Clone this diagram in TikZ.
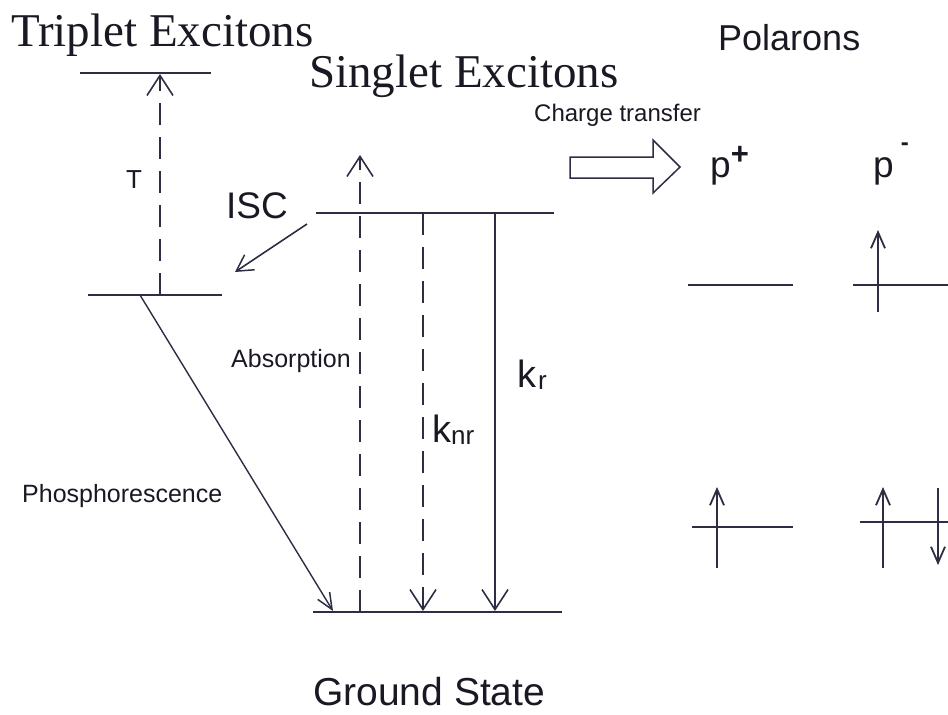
\documentclass[tikz,border=0pt]{standalone}
\usepackage{fontspec}
\setmainfont{Liberation Serif}
\setsansfont{Liberation Sans}
\usetikzlibrary{arrows.meta}
\definecolor{linecol}{RGB}{45,45,68}
\definecolor{txtcol}{RGB}{25,25,35}
\begin{document}
\begin{tikzpicture}[x=1pt,y=-1pt,
  level/.style={draw=linecol,line width=2.8pt},
  trans/.style={draw=linecol,line width=1.8pt,-{Straight Barb[length=20pt,width=26pt,line width=1.6pt]}},
  spin/.style={draw=linecol,line width=2pt,-{Straight Barb[length=16pt,width=14pt,line width=1.8pt]}},
  dashedtrans/.style={trans,dash pattern=on 22pt off 12pt},
  serifttl/.style={inner sep=0pt,anchor=base west,text=txtcol,font=\fontsize{47}{50}\selectfont},
  sanslbl/.style={inner sep=0pt,anchor=base west,text=txtcol,font=\sffamily\fontsize{25}{28}\selectfont},
  biglbl/.style={inner sep=0pt,anchor=base west,text=txtcol,font=\sffamily\fontsize{38}{40}\selectfont}
]
\useasboundingbox (0,0) rectangle (948,715);

% ---- titles and labels
\node[serifttl] (ttitle) at (11,46) {Triplet Excitons};
\node[serifttl] (stitle) at (309,87) {Singlet Excitons};
\node[biglbl,font=\sffamily\fontsize{36}{40}\selectfont] (ptitle) at (718,50) {Polarons};
\node[sanslbl,font=\sffamily\fontsize{24}{26}\selectfont] (ctlbl) at (534,121) {Charge transfer};
\node[biglbl,font=\sffamily\fontsize{37}{40}\selectfont] (isclbl) at (226,218) {ISC};
\node[inner sep=0pt,anchor=base,text=txtcol,font=\sffamily\fontsize{26}{28}\selectfont] (tlbl) at (134,188) {T};
\node[sanslbl] (abslbl) at (231,367) {Absorption};
\node[sanslbl] (phoslbl) at (22,502) {Phosphorescence};
\node[biglbl] (knrlbl) at (432,442) {k{\fontsize{26}{28}\selectfont\raisebox{-2pt}{nr}}};
\node[biglbl] (krlbl) at (517,387) {k\hspace{2pt}{\fontsize{26}{28}\selectfont\raisebox{-2pt}{r}}};
\node[biglbl,font=\sffamily\fontsize{37}{40}\selectfont] (pplus) at (710,177) {p\raisebox{13pt}{\fontsize{31}{31}\selectfont\bfseries+}};
\node[biglbl,font=\sffamily\fontsize{37}{40}\selectfont] (pminus) at (873,177) {p\hspace{7pt}\raisebox{27pt}{\fontsize{24}{24}\selectfont\bfseries -}};
\node[sanslbl,font=\sffamily\fontsize{39}{42}\selectfont] (gslbl) at (313,705) {Ground State};

% ---- energy levels
\coordinate (T2a) at (80,73);   \coordinate (T2b) at (211,73);
\coordinate (T1a) at (88,295);  \coordinate (T1b) at (222,295);
\coordinate (S1a) at (316,213); \coordinate (S1b) at (554,213);
\coordinate (S0a) at (313,612); \coordinate (S0b) at (562,612);
\coordinate (PPua) at (688,285); \coordinate (PPub) at (793,285);
\coordinate (PMua) at (853,285); \coordinate (PMub) at (948,285);
\coordinate (PPla) at (692,527); \coordinate (PPlb) at (793,527);
\coordinate (PMla) at (860,522); \coordinate (PMlb) at (948,522);
\foreach \a/\b in {T2a/T2b,T1a/T1b,S1a/S1b,S0a/S0b,PPua/PPub,PMua/PMub,PPla/PPlb,PMla/PMlb}
  \draw[level] (\a) -- (\b);

% ---- transitions
\coordinate (Tfrom) at (160,295); \coordinate (Tto) at (160,74);
\draw[dashedtrans] (Tfrom) -- (Tto);

\coordinate (ISCfrom) at (307,224); \coordinate (ISCto) at (235,272);
\draw[draw=linecol,line width=1.6pt,-{Straight Barb[length=16pt,width=18pt,line width=1.5pt]}] (ISCfrom) -- (ISCto);

\coordinate (Phfrom) at (140,295); \coordinate (Phto) at (333,611);
\draw[draw=linecol,line width=1.4pt,-{Straight Barb[length=16pt,width=14pt,line width=1.5pt]}] (Phfrom) -- (Phto);

\coordinate (Absfrom) at (360,612); \coordinate (Absto) at (360,155);
\draw[dashedtrans] (Absfrom) -- (Absto);

\coordinate (Knrfrom) at (423,213); \coordinate (Knrto) at (423,611);
\draw[dashedtrans] (Knrfrom) -- (Knrto);

\coordinate (Krfrom) at (495,213); \coordinate (Krto) at (495,611);
\draw[trans] (Krfrom) -- (Krto);

% ---- charge-transfer block arrow
\draw[draw=linecol,line width=1.5pt,fill=white]
  (570,157) -- (653,157) -- (653,140) -- (680,167) -- (653,193) -- (653,178) -- (570,178) -- cycle;

% ---- polaron spins
\coordinate (s1a) at (878,312); \coordinate (s1b) at (878,230);
\coordinate (s2a) at (717,568); \coordinate (s2b) at (717,487);
\coordinate (s3a) at (883,568); \coordinate (s3b) at (883,487);
\coordinate (s4a) at (938,488); \coordinate (s4b) at (938,565);
\draw[spin] (s1a) -- (s1b);
\draw[spin] (s2a) -- (s2b);
\draw[spin] (s3a) -- (s3b);
\draw[spin] (s4a) -- (s4b);
\end{tikzpicture}
\end{document}
